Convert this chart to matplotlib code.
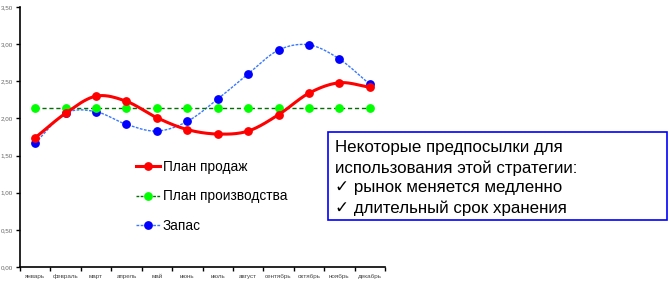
import numpy as np
import matplotlib
matplotlib.use("Agg")
from matplotlib import pyplot as plt
from matplotlib.lines import Line2D

plt.rcParams['font.family'] = ['Liberation Sans', 'DejaVu Sans']

months = ['январь', 'февраль', 'март', 'апрель', 'май', 'июнь',
          'июль', 'август', 'сентябрь', 'октябрь', 'ноябрь', 'декабрь']
sales = [1.74, 2.07, 2.30, 2.23, 2.01, 1.85, 1.79, 1.83, 2.05, 2.34, 2.48, 2.42]
production = [2.14] * 12
stock = [1.67, 2.07, 2.09, 1.92, 1.83, 1.96, 2.26, 2.60, 2.92, 2.99, 2.80, 2.46]
yticks = [0.0, 0.5, 1.0, 1.5, 2.0, 2.5, 3.0, 3.5]

note = ("Некоторые предпосылки для\nиспользования этой стратегии:\n"
        "\u2713 рынок меняется медленно\n\u2713 длительный срок хранения")


def smooth(y, n=20):
    # catmull-rom curve through the points, like excel smoothed lines
    y = np.asarray(y, float)
    x = np.arange(len(y), dtype=float)
    px = np.concatenate([[2 * x[0] - x[1]], x, [2 * x[-1] - x[-2]]])
    py = np.concatenate([[2 * y[0] - y[1]], y, [2 * y[-1] - y[-2]]])
    xs, ys = [], []
    t = np.linspace(0, 1, n, endpoint=False)
    for i in range(1, len(px) - 2):
        for arr, out in ((px, xs), (py, ys)):
            p0, p1, p2, p3 = arr[i - 1], arr[i], arr[i + 1], arr[i + 2]
            out.extend(0.5 * (2 * p1 + (-p0 + p2) * t
                              + (2 * p0 - 5 * p1 + 4 * p2 - p3) * t ** 2
                              + (-p0 + 3 * p1 - 3 * p2 + p3) * t ** 3))
    xs.append(x[-1])
    ys.append(y[-1])
    return np.array(xs), np.array(ys)


fig = plt.figure(figsize=(6.7, 2.83), dpi=100)
ax = fig.add_axes([20 / 670, 16 / 283, 365 / 670, 260 / 283])

x = np.arange(len(months))
ms = 5.3

xs, ys = smooth(stock)
ax.plot(xs, ys, color='#3a78ff', lw=1, ls=(0, (2, 1)))
ax.plot(x, stock, 'o', color='#0000ff', ms=ms, ls='none')

ax.plot(x, production, color='#007000', lw=1, ls=(0, (3, 2)))
ax.plot(x, production, 'o', color='#00ff00', ms=ms, ls='none')

xs, ys = smooth(sales)
ax.plot(xs, ys, color='#ff0000', lw=2.2)
ax.plot(x, sales, 'o', color='#ff0000', ms=ms, ls='none')

ax.set_xlim(-0.5, 11.5)
ax.set_ylim(0, 3.5)
ax.set_yticks(yticks)
ax.set_yticklabels([f'{v:.2f}'.replace('.', ',') for v in yticks],
                   fontsize=4.5, color='#666666')
ax.set_xticks(x)
ax.set_xticklabels(months, fontsize=4.5, color='#444444')
ax.set_xticks(np.arange(-0.5, 12, 1), minor=True)
ax.tick_params(axis='x', which='major', length=0, pad=5)
ax.tick_params(axis='x', which='minor', length=3, width=1)
ax.tick_params(axis='y', length=3, width=1, pad=2)
for s in ('top', 'right'):
    ax.spines[s].set_visible(False)
for s in ('left', 'bottom'):
    ax.spines[s].set_linewidth(1.2)

handles = [
    Line2D([], [], color='#ff0000', lw=2.2, marker='o', ms=ms),
    Line2D([], [], color='#007000', lw=1, ls=(0, (2, 1)), marker='o', ms=ms,
           mfc='#00ff00', mec='#00ff00'),
    Line2D([], [], color='#3a78ff', lw=1, ls=(0, (2, 1)), marker='o', ms=ms,
           mfc='#0000ff', mec='#0000ff'),
]
fig.legend(handles, ['План продаж', 'План производства', 'Запас'],
           loc='upper left', bbox_to_anchor=(129 / 670, 1 - 153 / 283),
           frameon=False, fontsize=9.8, handlelength=1.8, handletextpad=0.2,
           labelspacing=1.15, borderpad=0)

fig.text(335 / 670, 1 - 140 / 283, note, fontsize=12.2, va='top', ha='left',
         linespacing=1.4, color='black')
fig.patches.append(plt.Rectangle((328 / 670, 1 - 220 / 283), 339 / 670, 88 / 283,
                                 transform=fig.transFigure, fill=False,
                                 ec='#0000ff', lw=1.2))

fig.savefig('out.png', dpi=100)
